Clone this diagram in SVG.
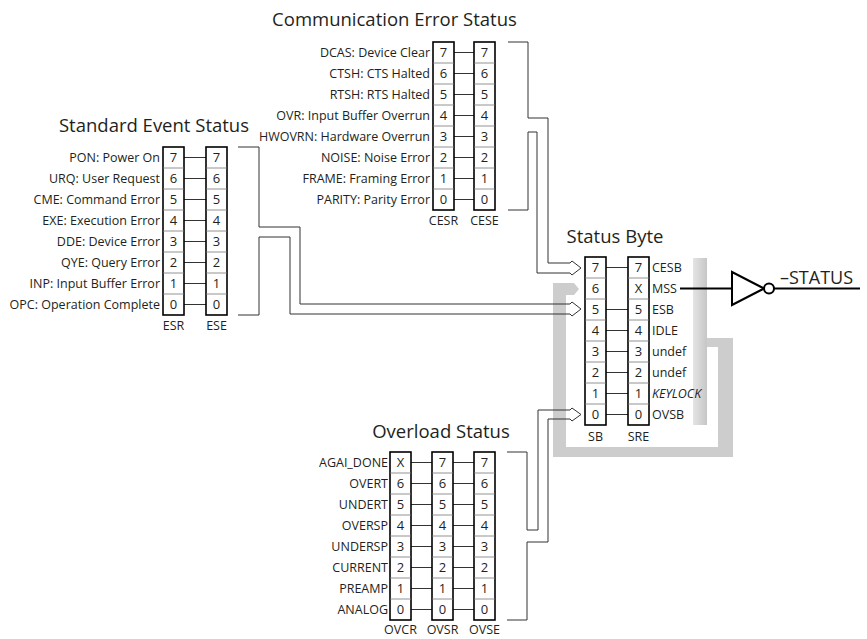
<svg xmlns="http://www.w3.org/2000/svg" width="867" height="639" viewBox="0 0 867 639">
<style>
text{font-family:"Open Sans","Noto Sans","DejaVu Sans",sans-serif;fill:#231f20}
.ttl{font-size:18.5px;text-anchor:middle}
.lbl{font-size:12.5px;text-anchor:end}
.rl{font-size:12.5px}
.sub{font-size:12.5px;text-anchor:middle}
.dig{font-size:13px;text-anchor:middle}
.box{fill:#fff;stroke:#000;stroke-width:1.6}
.dv{stroke:#777;stroke-width:0.8}
.wire{stroke:#333;stroke-width:1;fill:none}
.pipe{stroke:#333;stroke-width:1;fill:none;stroke-linejoin:miter}
.gray{fill:#cdcdcd}
</style>
<defs>
<linearGradient id="gb" x1="0" y1="0" x2="1" y2="0">
<stop offset="0" stop-color="#e4e4e4"/>
<stop offset="1" stop-color="#c6c6c6"/>
</linearGradient>
</defs>

<g id="feedback-loop">
<rect x="693" y="258" width="14" height="167" fill="url(#gb)"/>
<rect class="gray" x="707" y="338" width="26" height="9"/>
<rect class="gray" x="718" y="338" width="15" height="119"/>
<rect class="gray" x="553" y="447" width="180" height="10"/>
<rect class="gray" x="553" y="283" width="13" height="174"/>
<polygon class="gray" points="553,283 574,283 579,289 574,295 566,295 566,300 553,300"/>
</g>

<g id="connectors">
<path class="pipe" d="M508,42 H528 V118 H548 V263 H570 L572,261 L581,268"/>
<path class="pipe" d="M508,210 H528 V132 H537 V273 H570 L572,275 L581,268"/>
<path class="pipe" d="M238,147 H259 V227 H300 V304 H570 L572,302 L581,309"/>
<path class="pipe" d="M238,315 H259 V237 H290 V314 H570 L572,316 L581,309"/>
<path class="pipe" d="M507,452 H527 V530 H538 V410 H570 L572,408 L581,414.5"/>
<path class="pipe" d="M507,620 H527 V542 H548 V419 H570 L572,421 L581,414.5"/>
<path class="wire" d="M454,52.5H474M454,73.5H474M454,94.5H474M454,115.5H474M454,136.5H474M454,157.5H474M454,178.5H474M454,199.5H474"/>
<path class="wire" d="M184,157.5H206M184,178.5H206M184,199.5H206M184,220.5H206M184,241.5H206M184,262.5H206M184,283.5H206M184,304.5H206"/>
<path class="wire" d="M606,267.5H628M606,309.5H628M606,330.5H628M606,351.5H628M606,372.5H628M606,393.5H628M606,414.5H628"/>
<path class="wire" d="M411,462.5H432M411,483.5H432M411,504.5H432M411,525.5H432M411,546.5H432M411,567.5H432M411,588.5H432M411,609.5H432"/>
<path class="wire" d="M453,462.5H474M453,483.5H474M453,504.5H474M453,525.5H474M453,546.5H474M453,567.5H474M453,588.5H474M453,609.5H474"/>
<path d="M680,288.5H732" stroke="#000" stroke-width="2" fill="none"/>
<path d="M774,288.5H860" stroke="#000" stroke-width="2" fill="none"/>
</g>

<g id="communication-error-status">
<text class="ttl" x="394.5" y="26">Communication Error Status</text>
<rect class="box" x="433" y="42" width="21" height="168"/>
<path class="dv" d="M433,63H454M433,84H454M433,105H454M433,126H454M433,147H454M433,168H454M433,189H454"/>
<rect class="box" x="474" y="42" width="21" height="168"/>
<path class="dv" d="M474,63H495M474,84H495M474,105H495M474,126H495M474,147H495M474,168H495M474,189H495"/>
<text class="lbl" x="430" y="57">DCAS: Device Clear</text>
<text class="lbl" x="430" y="78">CTSH: CTS Halted</text>
<text class="lbl" x="430" y="99">RTSH: RTS Halted</text>
<text class="lbl" x="430" y="120">OVR: Input Buffer Overrun</text>
<text class="lbl" x="430" y="141">HWOVRN: Hardware Overrun</text>
<text class="lbl" x="430" y="162">NOISE: Noise Error</text>
<text class="lbl" x="430" y="183">FRAME: Framing Error</text>
<text class="lbl" x="430" y="204">PARITY: Parity Error</text>
<text class="dig" x="443.5" y="57">7</text><text class="dig" x="443.5" y="78">6</text><text class="dig" x="443.5" y="99">5</text><text class="dig" x="443.5" y="120">4</text><text class="dig" x="443.5" y="141">3</text><text class="dig" x="443.5" y="162">2</text><text class="dig" x="443.5" y="183">1</text><text class="dig" x="443.5" y="204">0</text>
<text class="dig" x="484.5" y="57">7</text><text class="dig" x="484.5" y="78">6</text><text class="dig" x="484.5" y="99">5</text><text class="dig" x="484.5" y="120">4</text><text class="dig" x="484.5" y="141">3</text><text class="dig" x="484.5" y="162">2</text><text class="dig" x="484.5" y="183">1</text><text class="dig" x="484.5" y="204">0</text>
<text class="sub" x="443.5" y="225">CESR</text>
<text class="sub" x="484.5" y="225">CESE</text>
</g>

<g id="standard-event-status">
<text class="ttl" x="154" y="131.5">Standard Event Status</text>
<rect class="box" x="163" y="147" width="21" height="168"/>
<path class="dv" d="M163,168H184M163,189H184M163,210H184M163,231H184M163,252H184M163,273H184M163,294H184"/>
<rect class="box" x="206" y="147" width="21" height="168"/>
<path class="dv" d="M206,168H227M206,189H227M206,210H227M206,231H227M206,252H227M206,273H227M206,294H227"/>
<text class="lbl" x="160" y="162">PON: Power On</text>
<text class="lbl" x="160" y="183">URQ: User Request</text>
<text class="lbl" x="160" y="204">CME: Command Error</text>
<text class="lbl" x="160" y="225">EXE: Execution Error</text>
<text class="lbl" x="160" y="246">DDE: Device Error</text>
<text class="lbl" x="160" y="267">QYE: Query Error</text>
<text class="lbl" x="160" y="288">INP: Input Buffer Error</text>
<text class="lbl" x="160" y="309">OPC: Operation Complete</text>
<text class="dig" x="173.5" y="162">7</text><text class="dig" x="173.5" y="183">6</text><text class="dig" x="173.5" y="204">5</text><text class="dig" x="173.5" y="225">4</text><text class="dig" x="173.5" y="246">3</text><text class="dig" x="173.5" y="267">2</text><text class="dig" x="173.5" y="288">1</text><text class="dig" x="173.5" y="309">0</text>
<text class="dig" x="216.5" y="162">7</text><text class="dig" x="216.5" y="183">6</text><text class="dig" x="216.5" y="204">5</text><text class="dig" x="216.5" y="225">4</text><text class="dig" x="216.5" y="246">3</text><text class="dig" x="216.5" y="267">2</text><text class="dig" x="216.5" y="288">1</text><text class="dig" x="216.5" y="309">0</text>
<text class="sub" x="173.5" y="330">ESR</text>
<text class="sub" x="216.5" y="330">ESE</text>
</g>

<g id="status-byte">
<text class="ttl" x="615" y="243">Status Byte</text>
<rect class="box" x="585" y="257" width="21" height="168"/>
<path class="dv" d="M585,278H606M585,299H606M585,320H606M585,341H606M585,362H606M585,383H606M585,404H606"/>
<rect class="box" x="628" y="257" width="21" height="168"/>
<path class="dv" d="M628,278H649M628,299H649M628,320H649M628,341H649M628,362H649M628,383H649M628,404H649"/>
<text class="dig" x="595.5" y="272">7</text><text class="dig" x="595.5" y="293">6</text><text class="dig" x="595.5" y="314">5</text><text class="dig" x="595.5" y="335">4</text><text class="dig" x="595.5" y="356">3</text><text class="dig" x="595.5" y="377">2</text><text class="dig" x="595.5" y="398">1</text><text class="dig" x="595.5" y="419">0</text>
<text class="dig" x="638.5" y="272">7</text><text class="dig" x="638.5" y="293">X</text><text class="dig" x="638.5" y="314">5</text><text class="dig" x="638.5" y="335">4</text><text class="dig" x="638.5" y="356">3</text><text class="dig" x="638.5" y="377">2</text><text class="dig" x="638.5" y="398">1</text><text class="dig" x="638.5" y="419">0</text>
<text class="rl" x="652" y="272">CESB</text>
<text class="rl" x="652" y="293">MSS</text>
<text class="rl" x="652" y="314">ESB</text>
<text class="rl" x="652" y="335">IDLE</text>
<text class="rl" x="652" y="356">undef</text>
<text class="rl" x="652" y="377">undef</text>
<text class="rl" x="652" y="398" font-style="italic">KEYLOCK</text>
<text class="rl" x="652" y="419">OVSB</text>
<text class="sub" x="595.5" y="441">SB</text>
<text class="sub" x="638.5" y="441">SRE</text>
</g>

<g id="overload-status">
<text class="ttl" x="441" y="438">Overload Status</text>
<rect class="box" x="390" y="452" width="21" height="168"/>
<path class="dv" d="M390,473H411M390,494H411M390,515H411M390,536H411M390,557H411M390,578H411M390,599H411"/>
<rect class="box" x="432" y="452" width="21" height="168"/>
<path class="dv" d="M432,473H453M432,494H453M432,515H453M432,536H453M432,557H453M432,578H453M432,599H453"/>
<rect class="box" x="474" y="452" width="21" height="168"/>
<path class="dv" d="M474,473H495M474,494H495M474,515H495M474,536H495M474,557H495M474,578H495M474,599H495"/>
<text class="lbl" x="388" y="467">AGAI_DONE</text>
<text class="lbl" x="388" y="488">OVERT</text>
<text class="lbl" x="388" y="509">UNDERT</text>
<text class="lbl" x="388" y="530">OVERSP</text>
<text class="lbl" x="388" y="551">UNDERSP</text>
<text class="lbl" x="388" y="572">CURRENT</text>
<text class="lbl" x="388" y="593">PREAMP</text>
<text class="lbl" x="388" y="614">ANALOG</text>
<text class="dig" x="400.5" y="467">X</text><text class="dig" x="400.5" y="488">6</text><text class="dig" x="400.5" y="509">5</text><text class="dig" x="400.5" y="530">4</text><text class="dig" x="400.5" y="551">3</text><text class="dig" x="400.5" y="572">2</text><text class="dig" x="400.5" y="593">1</text><text class="dig" x="400.5" y="614">0</text>
<text class="dig" x="442.5" y="467">7</text><text class="dig" x="442.5" y="488">6</text><text class="dig" x="442.5" y="509">5</text><text class="dig" x="442.5" y="530">4</text><text class="dig" x="442.5" y="551">3</text><text class="dig" x="442.5" y="572">2</text><text class="dig" x="442.5" y="593">1</text><text class="dig" x="442.5" y="614">0</text>
<text class="dig" x="484.5" y="467">7</text><text class="dig" x="484.5" y="488">6</text><text class="dig" x="484.5" y="509">5</text><text class="dig" x="484.5" y="530">4</text><text class="dig" x="484.5" y="551">3</text><text class="dig" x="484.5" y="572">2</text><text class="dig" x="484.5" y="593">1</text><text class="dig" x="484.5" y="614">0</text>
<text class="sub" x="400.5" y="634">OVCR</text>
<text class="sub" x="442.5" y="634">OVSR</text>
<text class="sub" x="484.5" y="634">OVSE</text>
</g>

<g id="status-gate">
<polygon points="732,272 732,305 764,288.5" fill="#fff" stroke="#000" stroke-width="2" stroke-linejoin="miter"/>
<circle cx="769" cy="288.5" r="5" fill="#fff" stroke="#000" stroke-width="2"/>
<text x="780" y="284" style="font-size:18px">–STATUS</text>
</g>
</svg>
